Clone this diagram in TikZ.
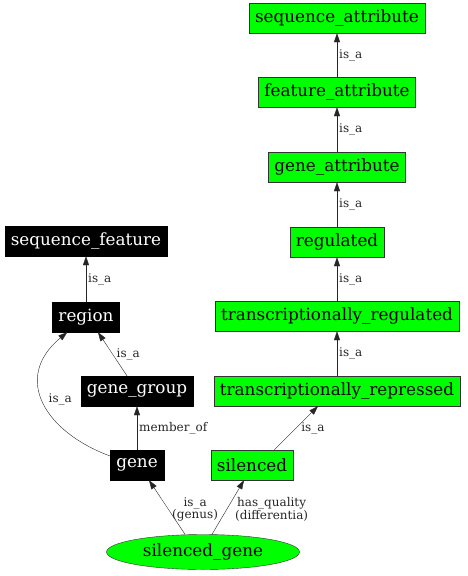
\documentclass[tikz,border=0pt]{standalone}
\usepackage{fontspec}
\setmainfont{DejaVu Serif}
\usetikzlibrary{arrows.meta}
\usetikzlibrary{shapes.geometric}

\begin{document}
\begin{tikzpicture}[x=1pt,y=-1pt,
  gterm/.style={draw=black!80,fill=green,minimum height=30pt,inner xsep=6pt,font=\fontsize{16.8}{18}\selectfont},
  bterm/.style={draw=black,fill=black,text=white,minimum height=30pt,inner xsep=6pt,font=\fontsize{16.8}{18}\selectfont},
  rel/.style={-{Triangle[length=9pt,width=6pt]},black!85},
  lab/.style={font=\fontsize{12}{12.5}\selectfont,align=center,inner sep=2pt}]
  \useasboundingbox (0,0) rectangle (467,576);

  \node [gterm] (seqattr) at (337,18) {sequence\_attribute};
  \node [gterm] (featattr) at (337,92) {feature\_attribute};
  \node [gterm] (geneattr) at (337,167) {gene\_attribute};
  \node [gterm] (regul) at (337,242) {regulated};
  \node [gterm] (tregul) at (337,316) {transcriptionally\_regulated};
  \node [gterm] (trepr) at (337,391) {transcriptionally\_repressed};
  \node [gterm] (silenced) at (252,465) {silenced};
  \node [gterm,ellipse,minimum width=193pt,minimum height=35pt,inner sep=0pt] (silgene) at (203,552) {silenced\_gene};

  \node [bterm] (seqfeat) at (86,241) {sequence\_feature};
  \node [bterm] (region) at (86,317) {region};
  \node [bterm] (genegrp) at (137,391) {gene\_group};
  \node [bterm] (gene) at (137,465) {gene};

  \draw [rel] (featattr) -- node [lab,right] {is\_a} (seqattr);
  \draw [rel] (geneattr) -- node [lab,right] {is\_a} (featattr);
  \draw [rel] (regul) -- node [lab,right] {is\_a} (geneattr);
  \draw [rel] (tregul) -- node [lab,right] {is\_a} (regul);
  \draw [rel] (trepr) -- node [lab,right] {is\_a} (tregul);
  \draw [rel] (silenced.north east) ++(-19pt,0) -- node [lab,right=3pt] {is\_a} ([xshift=-19pt]trepr.south);
  \draw [rel] (region) -- node [lab,right] {is\_a} (seqfeat);
  \draw [rel] ([xshift=-10pt]genegrp.north) -- node [lab,right=2pt] {is\_a} ([xshift=12pt]region.south);
  \draw [rel] (gene) -- node [lab,right] {member\_of} (genegrp);
  \draw [rel] ([yshift=9pt]gene.west) .. controls (45,432) and (12,378) .. node [lab,right=4pt,pos=0.52] {is\_a} ([xshift=15pt]region.south west);
  \draw [rel] ([xshift=9pt]silgene.north) -- node [lab,right=5pt,yshift=-2pt] {has\_quality\\(differentia)} ([xshift=-8pt]silenced.south);
  \draw [rel] ([xshift=-18pt]silgene.north) -- node [lab,right=3pt,yshift=-2pt] {is\_a\\(genus)} ([xshift=12pt]gene.south);
\end{tikzpicture}
\end{document}
